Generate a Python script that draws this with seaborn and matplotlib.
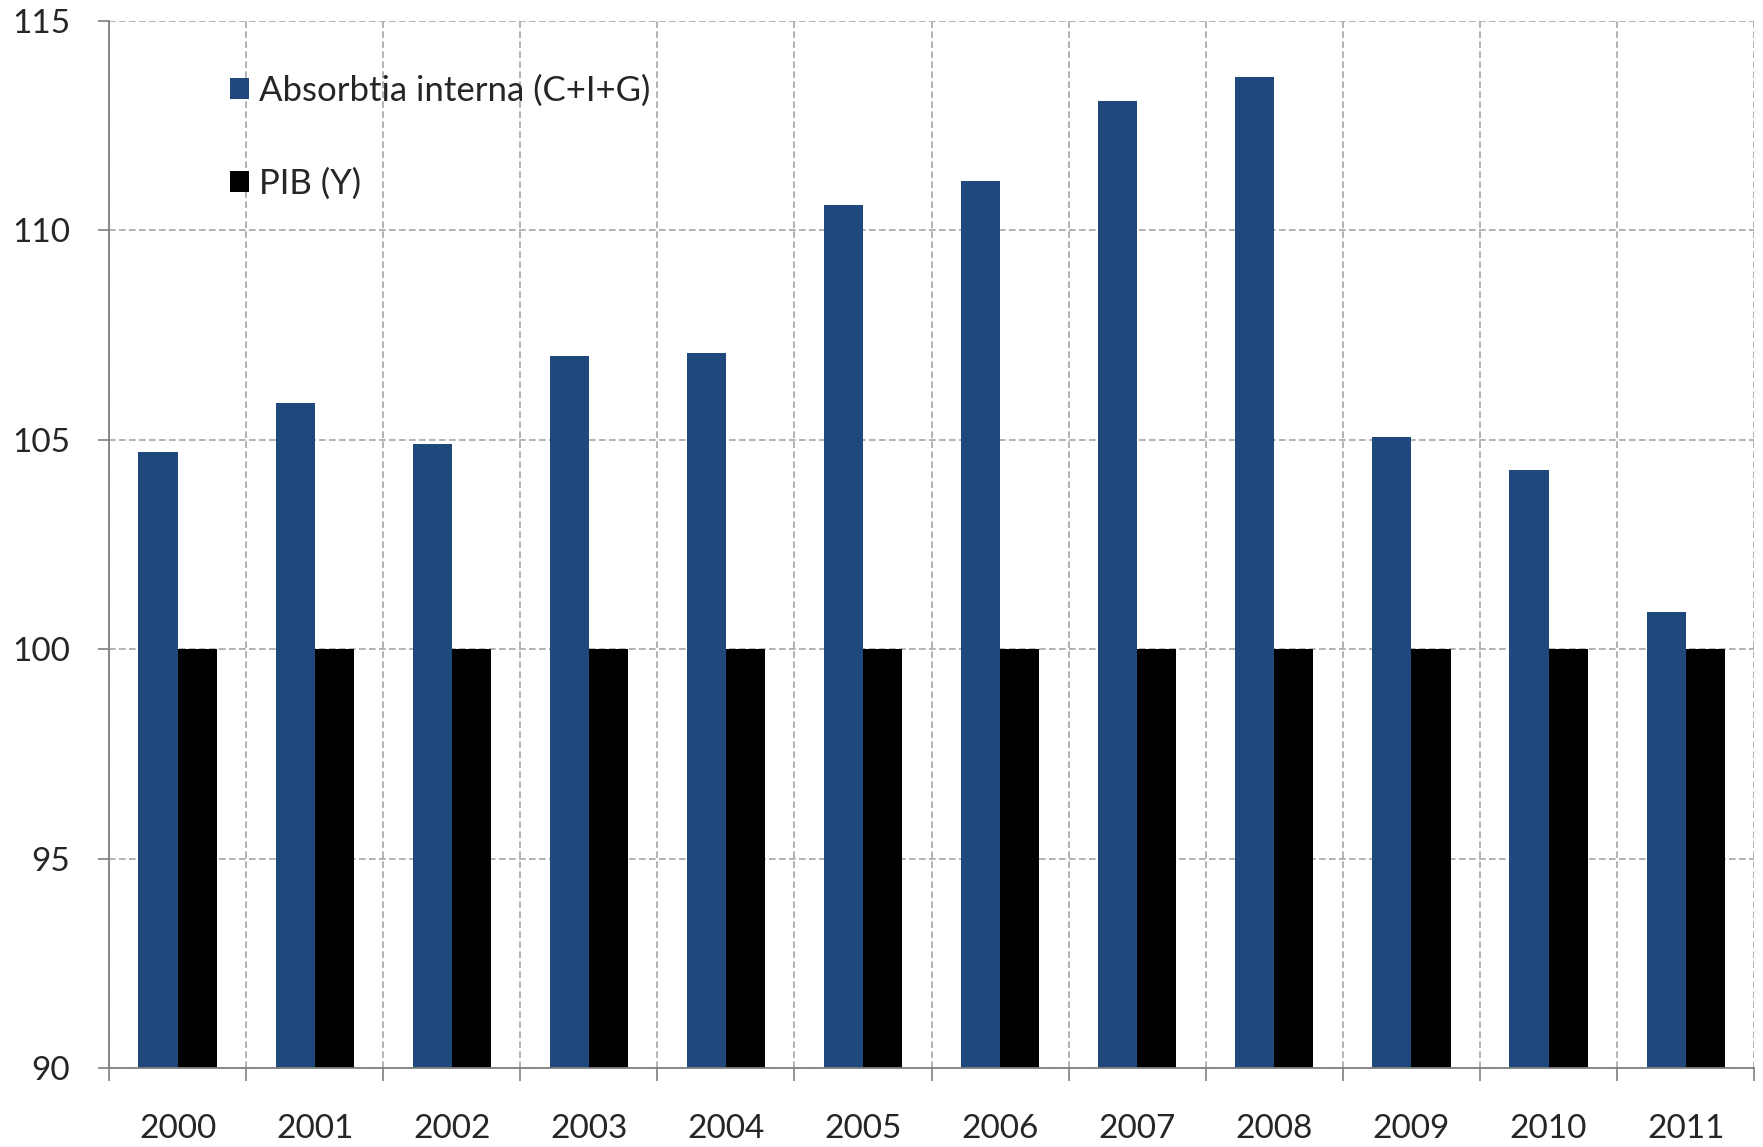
import matplotlib
matplotlib.use("Agg")
import matplotlib.pyplot as plt
import seaborn as sns
import pandas as pd
import numpy as np

years = ["2000", "2001", "2002", "2003", "2004", "2005", "2006", "2007", "2008", "2009", "2010", "2011"]
absorbtia = [104.72, 105.87, 104.90, 107.0, 107.08, 110.6, 111.19, 113.09, 113.66, 105.06, 104.29, 100.88]
pib = [100, 100, 100, 100, 100, 100, 100, 100, 100, 100, 100, 100]
series_names = ["Absorbtia interna (C+I+G)", "PIB (Y)"]
colors = ["#1F497D", "#000000"]
yticks = [90, 95, 100, 105, 110, 115]

sns.set_theme(style="white")
plt.rcParams['font.family'] = ['Lato', 'DejaVu Sans']

df = pd.DataFrame({
    "year": years * 2,
    "value": absorbtia + pib,
    "series": [series_names[0]] * len(years) + [series_names[1]] * len(years),
})

fig = plt.figure(figsize=(17.63, 11.47), dpi=100)
ax = fig.add_axes([0.0618, 0.0689, 0.995 - 0.0618, 0.9817 - 0.0689])

sns.barplot(data=df, x="year", y="value", hue="series", order=years,
            hue_order=series_names, palette=colors, width=0.57,
            saturation=1, ax=ax, legend=True, edgecolor="none", linewidth=0)

ax.set_ylim(90, 115)
ax.set_xlim(-0.5, len(years) - 0.5)
ax.set_yticks(yticks)
ax.set_yticklabels([str(t) for t in yticks], fontsize=24)
ax.set_xticks(range(len(years)))
ax.set_xticklabels(years, fontsize=24)
ax.set_xticks(np.arange(-0.5, len(years), 1.0), minor=True)
ax.set_xlabel("")
ax.set_ylabel("")

ax.tick_params(axis="x", which="major", length=0, pad=33)
ax.tick_params(axis="x", which="minor", length=9, width=1.2, color="#808080", direction="out", bottom=True)
ax.tick_params(axis="y", which="major", length=8, width=1.2, color="#808080", direction="out", left=True, pad=20)

ax.set_axisbelow(True)
ax.grid(False)
ax.yaxis.grid(True, which="major", color="#A6A6A6", linestyle=(0, (4, 2)), linewidth=1.2)
ax.xaxis.grid(True, which="minor", color="#A6A6A6", linestyle=(0, (4, 2)), linewidth=1.2)

for s in ["top", "right"]:
    ax.spines[s].set_visible(False)
for s in ["left", "bottom"]:
    ax.spines[s].set_color("#808080")
    ax.spines[s].set_linewidth(1.3)

ax.legend(loc="upper left", bbox_to_anchor=(0.0735, 0.949), frameon=False,
          fontsize=25, handlelength=0.55, handleheight=0.55, handletextpad=0.3,
          labelspacing=1.75, borderpad=0, borderaxespad=0, title=None)

fig.savefig("out.png", dpi=100)
